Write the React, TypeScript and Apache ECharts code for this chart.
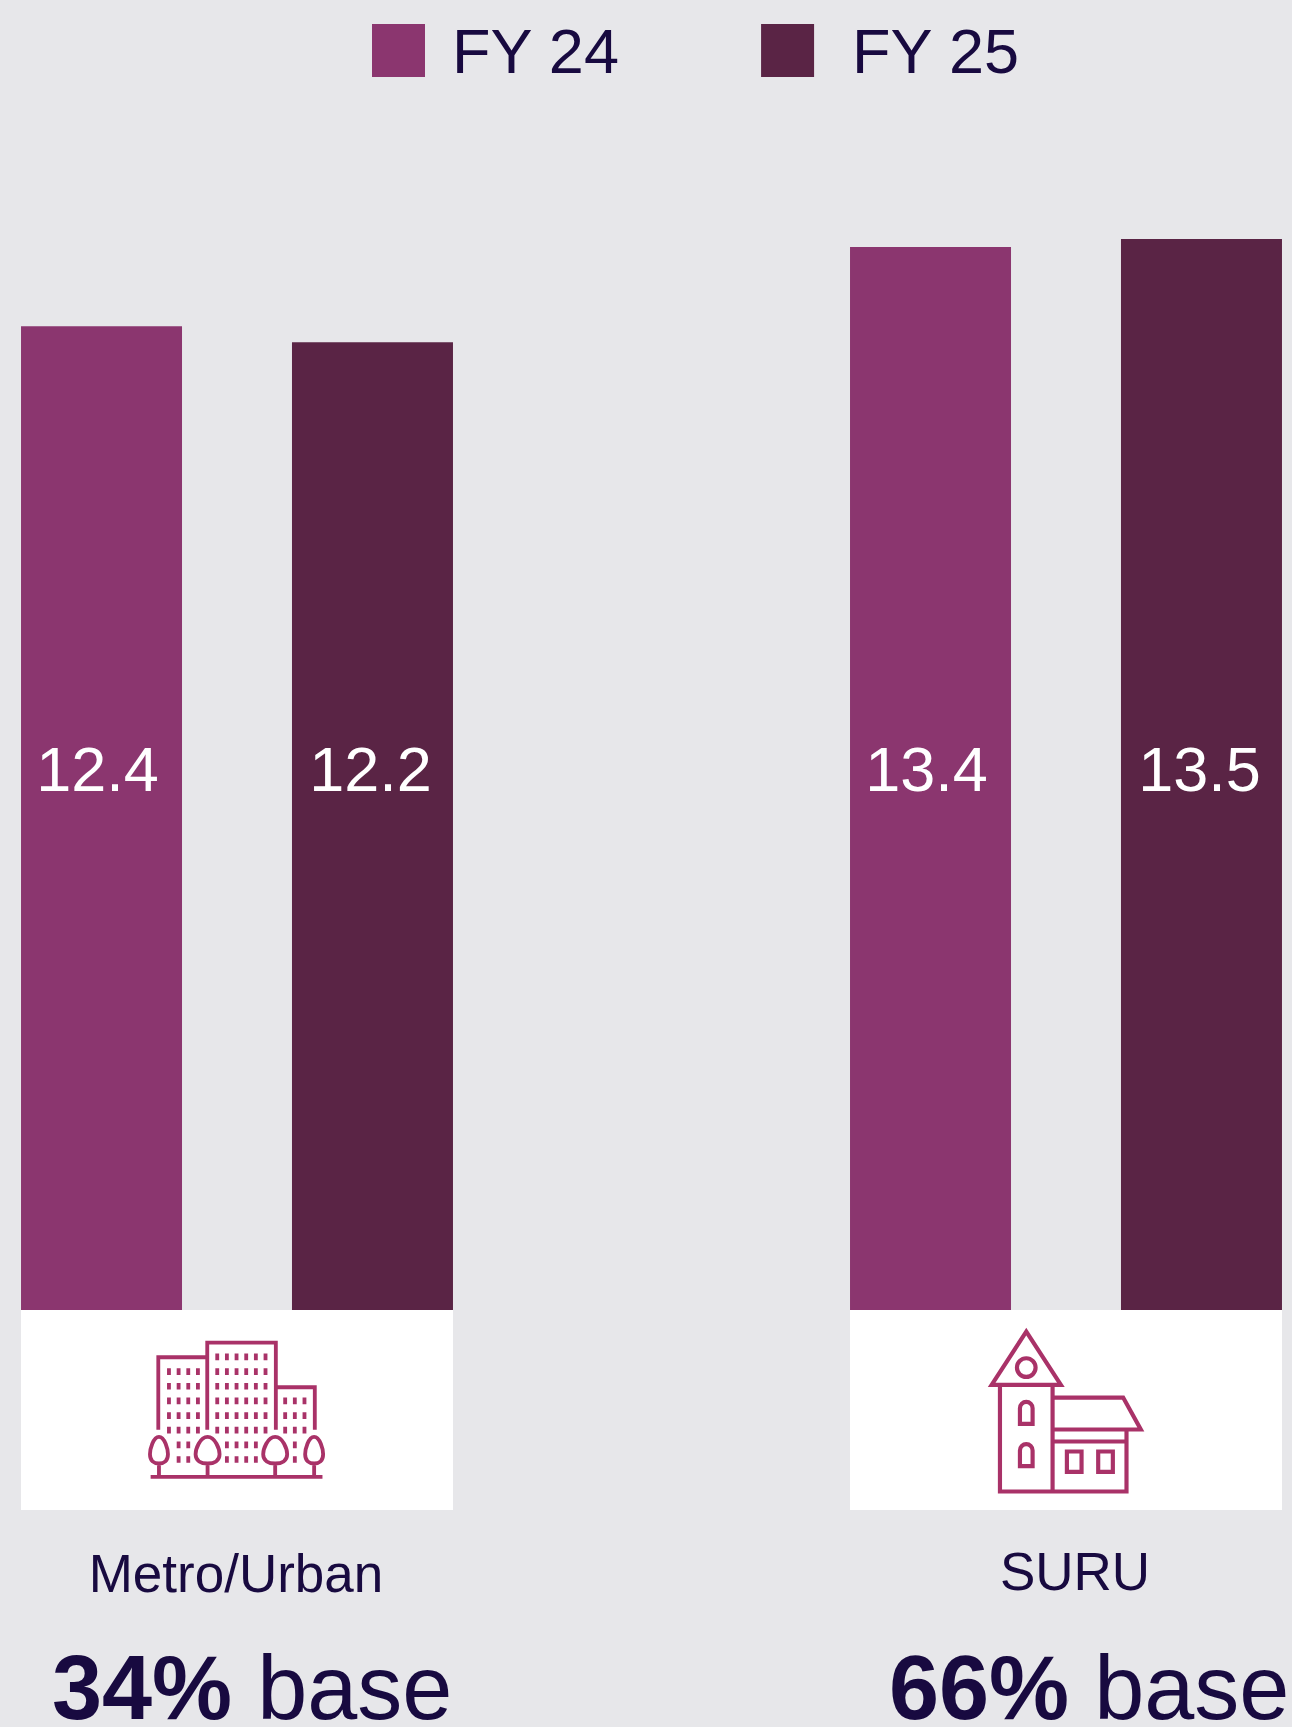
import React, { useEffect, useRef } from "react";
import * as echarts from "echarts";

const categories = ["Metro/Urban", "SURU"];
const fy24Values = [12.4, 13.4];
const fy25Values = [12.2, 13.5];
const baseShares = ["34%", "66%"];
const seriesNames = ["FY 24", "FY 25"];

const FONT = "'Liberation Sans', Arial, Helvetica, sans-serif";
const INK = "#180A40";
const ICON = "#A93268";
const BAR_24 = "#8B366F";
const BAR_25 = "#5A2445";
const PAGE = "#E7E7EA";

// City skyline icon: outlines plus the windows as short butt-capped strokes.
function skylinePath(): string {
  let d =
    "M115 390V172H262 M262 390V128H468V390 M468 262H585V390 M92 531H608 " +
    "M117 490V531 M263 490V531 M466 490V531 M583 490V531 ";
  const win = (xs: number[], ys: number[]) => {
    for (const x of xs) for (const y of ys) d += `M${x} ${y - 10}V${y + 10} `;
  };
  win([147, 176, 205, 234], [215, 259, 303, 347, 391]);
  win([176, 205], [435, 479]);
  win([292, 321, 350, 379, 408, 437], [171, 215, 259, 303, 347, 391]);
  win([321, 350, 379, 408], [435, 479]);
  win([496, 525, 554], [303, 347, 391]);
  win([525], [435, 479]);
  const tree = (cx: number, a: number) => {
    const t = 411;
    const b = 491;
    d +=
      `M${cx} ${t}C${cx + a * 0.65} ${t} ${cx + a} ${t + 38} ${cx + a} ${t + 52}` +
      `C${cx + a} ${b - 8} ${cx + a * 0.55} ${b} ${cx} ${b}` +
      `C${cx - a * 0.55} ${b} ${cx - a} ${b - 8} ${cx - a} ${t + 52}` +
      `C${cx - a} ${t + 38} ${cx - a * 0.65} ${t} ${cx} ${t}Z `;
  };
  tree(117, 27);
  tree(263, 36);
  tree(466, 36);
  tree(583, 27);
  return d;
}

// Small-town house icon with a tower and a side annex.
const housePath =
  "M199 95L95 255H303Z M120 255V575H500V390 M278 255V575 " +
  "M278 293H490L543 389H278 M278 425H500 " +
  "M171 203A28 28 0 1 0 227 203A28 28 0 1 0 171 203Z " +
  "M180 372V325A19 19 0 0 1 218 325V372Z M180 499V452A19 19 0 0 1 218 452V499Z " +
  "M321 455H365V516H321Z M415 455H459V516H415Z";

echarts.graphic.registerShape("skylineIcon", echarts.graphic.extendPath(skylinePath(), {}));
echarts.graphic.registerShape("houseIcon", echarts.graphic.extendPath(housePath, {}));

const skylineStyle = { fill: "none", stroke: ICON, lineWidth: 11.5 };
const houseStyle = { fill: "none", stroke: ICON, lineWidth: 12.5 };

function valueLabel(offsetX: number) {
  return {
    show: true,
    position: "insideBottom",
    distance: 510,
    offset: [offsetX, 0],
    color: "#FFFFFF",
    fontFamily: FONT,
    fontSize: 63,
    lineHeight: 62,
    formatter: (p: { value: number }) => p.value.toFixed(1),
  };
}

function baseText(left: number, share: string) {
  return {
    type: "text",
    x: left,
    y: 1688,
    style: {
      text: `{b|${share}}{n| base}`,
      verticalAlign: "middle",
      rich: {
        b: { fontFamily: FONT, fontSize: 90, fontWeight: "bold", fill: INK, lineHeight: 78 },
        n: { fontFamily: FONT, fontSize: 90, fill: INK, lineHeight: 78 },
      },
    },
  };
}

function categoryText(cx: number, cy: number, text: string) {
  return {
    type: "text",
    x: cx,
    y: cy,
    style: {
      text,
      align: "center",
      verticalAlign: "middle",
      fontFamily: FONT,
      fontSize: 53,
      fill: INK,
    },
  };
}

export default function App() {
  const ref = useRef<HTMLDivElement>(null);

  useEffect(() => {
    document.body.style.margin = "0";
    const chart = echarts.init(ref.current!, undefined, { renderer: "svg" });
    chart.setOption({
      animation: false,
      backgroundColor: PAGE,
      legend: {
        left: 372,
        top: 19,
        padding: 0,
        itemWidth: 53,
        itemHeight: 53,
        itemGap: 141,
        selectedMode: false,
        icon: "rect",
        textStyle: { fontFamily: FONT, fontSize: 63, color: INK },
        data: [
          { name: seriesNames[0], textStyle: { padding: [-12, 0, 0, 22] } },
          { name: seriesNames[1], textStyle: { padding: [-6, 0, 0, 33] } },
        ],
      },
      grid: { left: 237, right: 226, top: 239, bottom: 417 },
      xAxis: {
        type: "category",
        boundaryGap: false,
        data: categories,
        show: false,
      },
      yAxis: { type: "value", min: 0, max: 13.5, show: false },
      series: [
        {
          name: seriesNames[0],
          type: "bar",
          clip: false,
          barWidth: 161,
          barGap: "68.3%",
          itemStyle: { color: BAR_24 },
          label: valueLabel(-4),
          data: fy24Values,
        },
        {
          name: seriesNames[1],
          type: "bar",
          clip: false,
          barWidth: 161,
          itemStyle: { color: BAR_25 },
          label: valueLabel(-2),
          data: fy25Values,
        },
      ],
      graphic: [
        { type: "rect", shape: { x: 21, y: 1310, width: 432, height: 200 }, style: { fill: "#FFFFFF" } },
        { type: "rect", shape: { x: 850, y: 1310, width: 432, height: 200 }, style: { fill: "#FFFFFF" } },
        { type: "skylineIcon", x: 120, y: 1300, scaleX: 1 / 3, scaleY: 1 / 3, style: skylineStyle },
        { type: "houseIcon", x: 960, y: 1300, scaleX: 1 / 3, scaleY: 1 / 3, style: houseStyle },
        categoryText(236, 1573, categories[0]),
        categoryText(1075, 1571, categories[1]),
        baseText(52, baseShares[0]),
        baseText(889, baseShares[1]),
      ],
    });
    return () => chart.dispose();
  }, []);

  return <div ref={ref} style={{ width: 1292, height: 1727, display: "block" }} />;
}
